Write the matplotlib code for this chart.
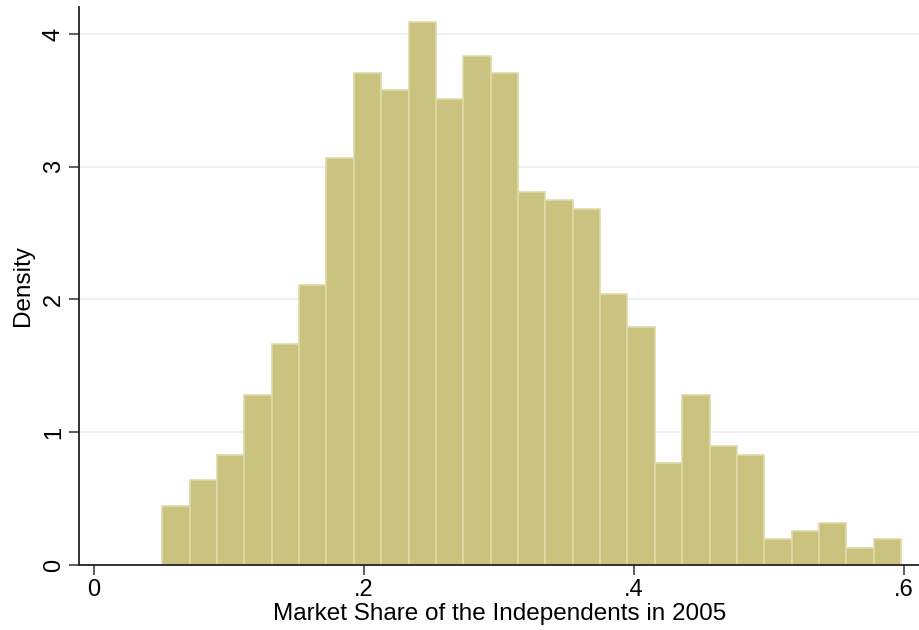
import numpy as np
import matplotlib
matplotlib.use("Agg")
import matplotlib.pyplot as plt

# histogram of independents' market share (density scale)
bin_start = 0.0506
bin_width = 0.02027
density = [0.445, 0.638, 0.832, 1.279, 1.661, 2.108, 3.067, 3.708, 3.580,
           4.090, 3.512, 3.836, 3.708, 2.811, 2.748, 2.683, 2.045, 1.789,
           0.769, 1.279, 0.897, 0.832, 0.194, 0.259, 0.320, 0.131, 0.194]

x_ticks = [0, 0.2, 0.4, 0.6]
x_tick_labels = ["0", ".2", ".4", ".6"]
y_ticks = [0, 1, 2, 3, 4]

plt.rcParams['font.family'] = ['Liberation Sans', 'DejaVu Sans']

fig = plt.figure(figsize=(9.2, 6.3), dpi=100)
ax = fig.add_axes([79 / 920, 1 - 565 / 630, 1 - 79 / 920, (565 - 7) / 630])

edges = bin_start + bin_width * np.arange(len(density))
ax.bar(edges, density, width=bin_width, align='edge',
       color='#cac37f', edgecolor='#dfdaa8', linewidth=1.2, zorder=2)

for yv in y_ticks[1:]:
    ax.axhline(yv, color='#eaf2f3', linewidth=1.5, zorder=1)

ax.set_xlim(-0.0111, 0.6119)
ax.set_ylim(0, 4.203)

ax.set_xticks(x_ticks)
ax.set_xticklabels(x_tick_labels)
ax.set_yticks(y_ticks)
ax.set_yticklabels([str(v) for v in y_ticks], rotation=90, va='center')

ax.tick_params(axis='both', length=7.2, width=1.1, color='#333333',
               labelsize=17, pad=3)

for side in ['top', 'right']:
    ax.spines[side].set_visible(False)
for side in ['left', 'bottom']:
    ax.spines[side].set_linewidth(1.3)
    ax.spines[side].set_color('#222222')
    ax.spines[side].set_zorder(3)

ax.set_xlabel("Market Share of the Independents in 2005", fontsize=17.5, labelpad=1)
ax.set_ylabel("Density", fontsize=17.5, labelpad=6)

fig.savefig("out.png", dpi=100)
